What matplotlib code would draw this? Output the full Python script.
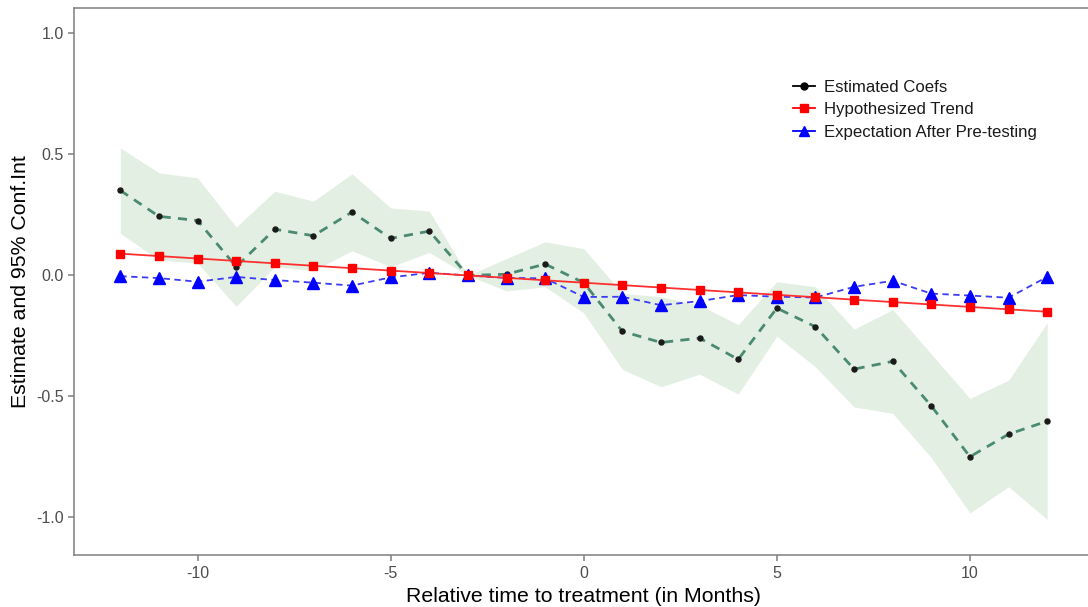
import matplotlib
matplotlib.use("Agg")
import matplotlib.pyplot as plt
from matplotlib.lines import Line2D

plt.rcParams['font.family'] = ['Liberation Sans', 'DejaVu Sans']

months = [-12, -11, -10, -9, -8, -7, -6, -5, -4, -3, -2, -1, 0,
          1, 2, 3, 4, 5, 6, 7, 8, 9, 10, 11, 12]
estimate = [0.351, 0.244, 0.227, 0.036, 0.191, 0.164, 0.262, 0.153, 0.183, 0.0,
            0.005, 0.047, -0.030, -0.231, -0.277, -0.259, -0.347, -0.135, -0.212,
            -0.387, -0.355, -0.539, -0.749, -0.656, -0.602]
ci_upper = [0.527, 0.424, 0.403, 0.200, 0.348, 0.307, 0.420, 0.279, 0.266, 0.0,
            0.070, 0.139, 0.111, -0.074, -0.088, -0.123, -0.203, -0.026, -0.047,
            -0.222, -0.141, -0.325, -0.508, -0.433, -0.196]
ci_lower = [0.174, 0.064, 0.051, -0.128, 0.036, 0.020, 0.102, 0.036, 0.095, 0.0,
            -0.064, -0.047, -0.155, -0.388, -0.460, -0.408, -0.490, -0.251, -0.378,
            -0.543, -0.570, -0.753, -0.981, -0.873, -1.008]
hyp_trend = [0.09, 0.08, 0.07, 0.06, 0.05, 0.04, 0.03, 0.02, 0.01, 0.0,
             -0.01, -0.02, -0.03, -0.04, -0.05, -0.06, -0.07, -0.08, -0.09,
             -0.10, -0.11, -0.12, -0.13, -0.14, -0.15]
expectation = [-0.003, -0.011, -0.026, -0.006, -0.019, -0.030, -0.042, -0.008, 0.011, 0.0,
               -0.010, -0.012, -0.089, -0.088, -0.123, -0.106, -0.081, -0.088, -0.091,
               -0.047, -0.022, -0.075, -0.083, -0.092, -0.006]

xticks = [-10, -5, 0, 5, 10]
xtick_labels = ["-10", "-5", "0", "5", "10"]
yticks = [-1.0, -0.5, 0.0, 0.5, 1.0]
ytick_labels = ["-1.0", "-0.5", "0.0", "0.5", "1.0"]

W, H = 1088, 607
fig = plt.figure(figsize=(W / 100, H / 100), dpi=100)
ax = fig.add_axes([74 / W, 1 - 555 / H, (1093.5 - 74) / W, (555 - 8) / H])

ribbon_col = '#e4efe3'
est_line_col = '#4a8a6f'
gray = '#7f7f7f'

ax.fill_between(months, ci_lower, ci_upper, color=ribbon_col, linewidth=0, zorder=1)
ax.plot(months, estimate, color=est_line_col, linestyle=(0, (3.3, 2.6)), linewidth=2.0, zorder=2)
ax.plot(months, estimate, linestyle='none', marker='o', markersize=3.6, color='#1a1a1a', zorder=3)
ax.plot(months, expectation, color='#3b3bf5', linestyle=(0, (3.5, 2.5)), linewidth=1.3, zorder=3)
ax.plot(months, expectation, linestyle='none', marker='^', markersize=8, color='#0000ff', zorder=4)
ax.plot(months, hyp_trend, color='#ff3030', linewidth=1.3, zorder=5)
ax.plot(months, hyp_trend, linestyle='none', marker='s', markersize=6, color='#ff0000', zorder=5)

ax.set_xlim(-13.2, 13.2)
ax.set_ylim(-1.155, 1.105)
ax.set_xticks(xticks)
ax.set_xticklabels(xtick_labels)
ax.set_yticks(yticks)
ax.set_yticklabels(ytick_labels)

for side in ['left', 'bottom', 'top', 'right']:
    ax.spines[side].set_color(gray)
    ax.spines[side].set_linewidth(1.1)
ax.tick_params(axis='both', colors=gray, labelcolor='#4d4d4d', labelsize=11.5,
               length=4, width=1.1)
ax.tick_params(axis='x', pad=4.0)
ax.tick_params(axis='y', pad=3.5)

ax.set_xlabel("Relative time to treatment (in Months)", fontsize=15.3, color='black', labelpad=4.5)
ax.set_ylabel("Estimate and 95% Conf.Int", fontsize=15.3, color='black', labelpad=4)

handles = [
    Line2D([], [], color='black', marker='o', markersize=5, linewidth=1.3),
    Line2D([], [], color='#ff0000', marker='s', markersize=6, linewidth=1.3),
    Line2D([], [], color='#0000ff', marker='^', markersize=7, linewidth=1.3),
]
labels = ["Estimated Coefs", "Hypothesized Trend", "Expectation After Pre-testing"]
leg = ax.legend(handles, labels, loc='upper left', bbox_to_anchor=(793 / W, 1 - 79.5 / H),
                bbox_transform=fig.transFigure, frameon=False, fontsize=12.1,
                handlelength=1.3, handletextpad=0.55, labelspacing=0.45, borderpad=0,
                borderaxespad=0)
for t in leg.get_texts():
    t.set_color('#1a1a1a')

fig.savefig("out.png", dpi=100)
